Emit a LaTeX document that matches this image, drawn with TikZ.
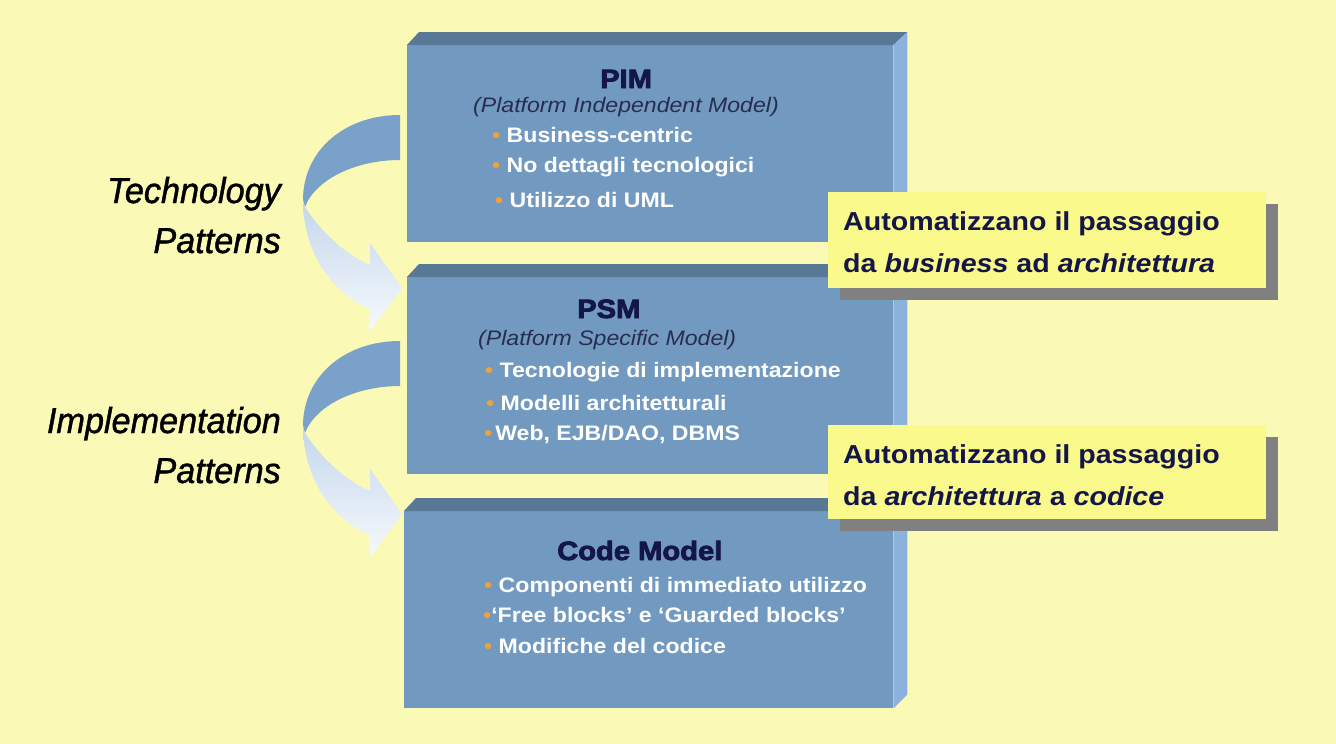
\documentclass[tikz,border=0pt]{standalone}
\usepackage{fontspec}
\setmainfont{Liberation Sans}[FakeStretch=1.1]
\newfontfamily\titlefont{Liberation Sans}[FakeStretch=1.1, BoldFeatures={FakeBold=3}]
\newfontfamily\labelfont{Liberation Sans}[FakeStretch=0.95, ItalicFeatures={FakeBold=1.2}]
\usetikzlibrary{shadows}

\definecolor{paper}{RGB}{250,250,182}
\definecolor{boxfront}{RGB}{114,153,191}
\definecolor{boxtop}{RGB}{88,120,150}
\definecolor{boxside}{RGB}{138,178,220}
\definecolor{ribbondark}{RGB}{122,161,201}
\definecolor{ribbonlight}{RGB}{196,214,236}
\definecolor{ribbonpale}{RGB}{246,249,252}
\definecolor{noteyellow}{RGB}{250,250,140}
\definecolor{notegray}{RGB}{128,128,128}
\definecolor{navy}{RGB}{20,22,72}
\definecolor{subgray}{RGB}{40,45,80}
\definecolor{dotorange}{RGB}{240,160,60}

\newcommand{\dotitem}{{\color{dotorange}•}}

\tikzset{
  modelbox/.style={fill=boxfront, inner sep=0pt, anchor=north west},
  bevel/.style={fill=boxtop},
  sideface/.style={fill=boxside},
  title/.style={anchor=base west, inner sep=0pt, text=navy, font=\titlefont\bfseries\fontsize{26.5}{30}\selectfont},
  subtitle/.style={anchor=base west, inner sep=0pt, text=subgray, font=\itshape\fontsize{21}{25}\selectfont},
  item/.style={anchor=base west, inner sep=0pt, text=white, font=\bfseries\fontsize{21}{25}\selectfont},
  callout/.style={fill=noteyellow, inner sep=0pt, anchor=north west,
    drop shadow={shadow xshift=12pt, shadow yshift=-12pt, fill=notegray, opacity=1}},
  calltext/.style={anchor=base west, inner sep=0pt, text=navy, font=\bfseries\fontsize{26}{30}\selectfont},
  sidelabel/.style={anchor=base east, inner sep=0pt, font=\labelfont\itshape\fontsize{36}{40}\selectfont},
  ribbon/.pic={
    % dark upper band
    \fill[ribbondark] (-7,-162) .. controls (-62,-162) and (-104,-127) .. (-104,-77)
      -- (-102,-70) .. controls (-92,-97) and (-52,-117) .. (-7,-117) -- cycle;
    % pale lower band with head
    \shade[top color=ribbonlight, bottom color=ribbonpale] (-102,-70)
      .. controls (-89,-49) and (-62,-22) .. (-37,-12) -- (-37,-34) -- (-5,11)
      -- (-37,54) -- (-37,32) .. controls (-72,18) and (-104,-22) .. (-104,-77) -- cycle;
  }
}

\begin{document}
\begin{tikzpicture}[x=1pt, y=-1pt]
    % background
    \fill[paper] (0,0) rectangle (1336,744);
    \useasboundingbox (0,0) rectangle (1336,744);

    % model boxes
    \node[modelbox, minimum width=486pt, minimum height=197pt] (pim) at (407,45) {};
    \node[modelbox, minimum width=486pt, minimum height=197pt] (psm) at (407,277) {};
    \node[modelbox, minimum width=489pt, minimum height=197pt] (code) at (404,511) {};

    % curved arrows between the models
    \pic at (psm.north west) {ribbon};
    \pic at ([shift={(3,-8)}]code.north west) {ribbon};

    % top bevels and right sides
    \foreach \b in {pim,psm,code}{
        \fill[bevel] (\b.north west) -- ++(12,-13) -- ([shift={(14,-13)}]\b.north east) -- (\b.north east) -- cycle;
        \fill[sideface] (\b.north east) -- ++(14,-13) -- ([shift={(14,-14)}]\b.south east) -- (\b.south east) -- cycle;
    }

    % PIM
    \node[title] (pimtitle) at (600,88) {PIM};
    \node[subtitle] (pimsub) at (473,112) {(Platform Independent Model)};
    \node[item] (pim1) at (492,142) {\dotitem\ Business-centric};
    \node[item] (pim2) at (492,172) {\dotitem\ No dettagli tecnologici};
    \node[item] (pim3) at (495,207) {\dotitem\ Utilizzo di UML};

    % PSM
    \node[title] (psmtitle) at (577,318) {PSM};
    \node[subtitle] (psmsub) at (478,345) {(Platform Specific Model)};
    \node[item] (psm1) at (485,377) {\dotitem\ Tecnologie di implementazione};
    \node[item] (psm2) at (486,410) {\dotitem\ Modelli architetturali};
    \node[item] (psm3) at (484,440) {\dotitem\hspace{3pt}Web, EJB/DAO, DBMS};

    % Code Model
    \node[title] (codetitle) at (557,560) {Code Model};
    \node[item] (code1) at (484,592) {\dotitem\ Componenti di immediato utilizzo};
    \node[item] (code2) at (483,622) {\dotitem‘Free blocks’ e ‘Guarded blocks’};
    \node[item] (code3) at (484,653) {\dotitem\ Modifiche del codice};

    % pattern labels
    \node[sidelabel] (tech1) at (281,203) {Technology};
    \node[sidelabel] (tech2) at (281,253) {Patterns};
    \node[sidelabel] (impl1) at (281,433) {Implementation};
    \node[sidelabel] (impl2) at (281,483) {Patterns};

    % callouts
    \node[callout, minimum width=438pt, minimum height=96pt] (note1) at (828,192) {};
    \node[calltext] (note1a) at (843,230) {Automatizzano il passaggio};
    \node[calltext] (note1b) at (843,272) {da \textit{business} ad \textit{architettura}};
    \node[callout, minimum width=438pt, minimum height=94pt] (note2) at (828,425) {};
    \node[calltext] (note2a) at (843,463) {Automatizzano il passaggio};
    \node[calltext] (note2b) at (843,505) {da \textit{architettura} a \textit{codice}};
\end{tikzpicture}
\end{document}
